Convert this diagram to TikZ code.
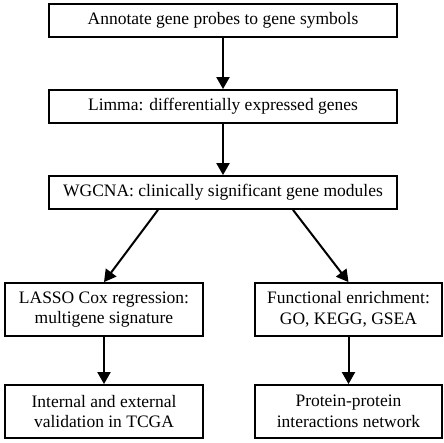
\documentclass[tikz,border=0pt]{standalone}
\usepackage{fontspec}
\setmainfont{Liberation Serif}
\usetikzlibrary{arrows.meta}

\begin{document}
\begin{tikzpicture}[x=1pt,y=1pt,
    box/.style={draw,line width=1.8pt,inner sep=0pt,align=center,
      font=\fontsize{17.5}{20.5}\selectfont},
    wide/.style={box,minimum width=348pt,minimum height=33pt},
    half/.style={box,minimum height=53pt},
    arr/.style={line width=2pt,-{Triangle[width=13pt,length=12pt]}}]

      \useasboundingbox (0,0) rectangle (444,443);

      \node[wide] (annot) at (223,422.5) {Annotate gene probes to gene symbols};
      \node[wide] (limma) at (223,336.5) {Limma: differentially expressed genes};
      \node[wide] (wgcna) at (223,250.5) {WGCNA: clinically significant gene modules};

      \node[half,minimum width=198pt] (lasso) at (104,133.5) {LASSO Cox regression:\\multigene signature};
      \node[half,minimum width=187pt] (enrich) at (348.5,133.5) {Functional enrichment:\\GO, KEGG, GSEA};
      \node[half,minimum width=198pt] (valid) at (104,31.5) {Internal and external\\validation in TCGA};
      \node[half,minimum width=187pt] (ppi) at (348.5,31.5) {Protein-protein\\interactions network};

      \draw[arr] (annot) -- (limma);
      \draw[arr] (limma) -- (wgcna);
      \draw[arr] ([xshift=-65pt]wgcna.south) -- (lasso.north); % left branch
      \draw[arr] ([xshift=70pt]wgcna.south) -- (enrich.north); % right branch
      \draw[arr] (lasso) -- (valid);
      \draw[arr] (enrich) -- (ppi);

    \end{tikzpicture}
\end{document}
